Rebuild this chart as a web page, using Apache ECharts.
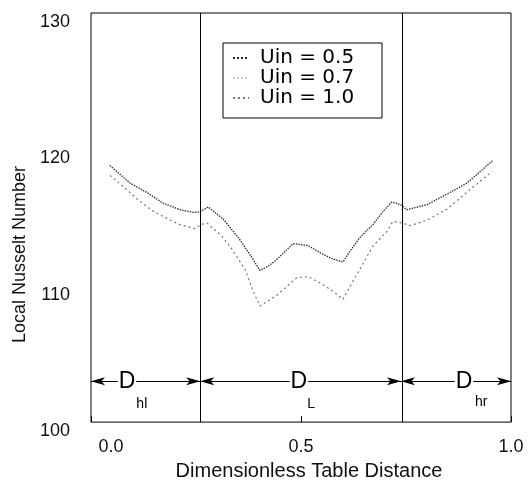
<!DOCTYPE html>
<html>
<head>
<meta charset="utf-8">
<script src="https://cdn.jsdelivr.net/npm/echarts@6/dist/echarts.min.js"></script>
<style>html,body{margin:0;padding:0;background:#fff;}#c{width:528px;height:486px;}</style>
</head>
<body>
<div id="c"></div>
<script>
// ---- data ----
const seriesNames = ['Uin = 0.5', 'Uin = 0.7', 'Uin = 1.0'];
const xTicks = [0, 0.5, 1.0];
const yTicks = [100, 110, 120, 130];

// upper curve (x, Nu)
const xUpper = [0.045,0.093,0.133,0.171,0.212,0.243,0.26,0.279,0.315,0.351,0.383,0.402,0.422,0.438,0.481,0.517,0.545,0.576,0.6,0.617,0.64,0.672,0.696,0.716,0.736,0.752,0.8,0.848,0.895,0.957];
const nuUin05 = [118.82,117.53,116.85,116.07,115.58,115.38,115.43,115.78,114.88,113.53,112.07,111.12,111.44,111.8,113.09,112.95,112.43,111.95,111.75,112.56,113.53,114.51,115.48,116.14,115.97,115.58,115.95,116.73,117.53,119.19];
const nuUin07 = [118.8,117.5,116.8,116.0,115.55,115.35,115.4,115.75,114.85,113.5,112.05,111.1,111.4,111.8,113.05,112.9,112.4,111.95,111.75,112.5,113.5,114.5,115.45,116.1,115.95,115.55,115.9,116.7,117.5,119.15];
// lower curve (x, Nu)
const xLower = [0.045,0.076,0.112,0.148,0.183,0.212,0.248,0.262,0.276,0.312,0.336,0.367,0.386,0.402,0.421,0.445,0.49,0.517,0.545,0.576,0.6,0.617,0.64,0.671,0.705,0.719,0.74,0.76,0.8,0.848,0.91,0.955];
const nuUin10 = [118.09,117.29,116.31,115.46,114.9,114.48,114.19,114.48,114.61,113.63,112.66,111.19,109.6,108.51,108.87,109.36,110.59,110.66,110.22,109.6,109.0,109.97,111.19,112.9,113.99,114.73,114.61,114.41,114.8,115.63,117.24,118.38];

// regions: table sections
const regionBounds = [0.26, 0.738];
const regionSpans = [[0, 0.26], [0.26, 0.738], [0.738, 1.0]];
const regionLetter = ['D', 'D', 'D'];
const regionSub = ['hl', 'L', 'hr'];
const letterX = [0.0857, 0.495, 0.888];
const subX = [0.121, 0.524, 0.929];
const arrowY = 103;
const subY = [101.32, 101.32, 101.46];

// ---- build ----
const F = 'Liberation Sans';
function pairs(xs, ys){ return xs.map((x,i)=>[x, ys[i]]); }

const chart = echarts.init(document.getElementById('c'), null, {renderer:'canvas'});

const markLineData = regionBounds.map(b => ({xAxis: b}));
const arrowData = regionSpans.map(s => [{coord:[s[0], arrowY]}, {coord:[s[1], arrowY]}]);

const labelPoints = [];
regionLetter.forEach((t,i)=>{
  labelPoints.push({coord:[letterX[i], arrowY], value:t,
    label:{formatter:t, fontSize:23, fontFamily:F, color:'#000', backgroundColor:'#fff', padding:[0,1,0,1]}});
  labelPoints.push({coord:[subX[i], subY[i]], value:regionSub[i],
    label:{formatter:regionSub[i], fontSize:14, fontFamily:F, color:'#000'}});
});

const cUp = '#222', cMid = '#cfcfcf', cLow = '#777';

const option = {
  animation:false,
  backgroundColor:'#fff',
  grid:{left:91, right:17, top:13, bottom:63, show:true, borderColor:'#000', borderWidth:1, backgroundColor:'transparent'},
  legend:{
    orient:'vertical', left:223, top:43,
    data: seriesNames,
    itemWidth:16, itemHeight:10, itemGap:0,
    padding:[5,10,10,9],
    borderColor:'#000', borderWidth:1,
    formatter: n => '{t|' + n + '}',
    itemStyle:{color:'rgba(0,0,0,0)', borderColor:'rgba(0,0,0,0)', borderWidth:0},
    textStyle:{fontFamily:'DejaVu Sans', fontSize:20, lineHeight:20, color:'#000',
      rich:{t:{fontFamily:'DejaVu Sans', fontSize:20, lineHeight:20, color:'#000', width:112, padding:[0,0,0,6]}}}
  },
  xAxis:{
    type:'value', min:0, max:1, interval:0.5,
    axisLine:{show:false},
    axisTick:{show:true, inside:true, length:6, lineStyle:{color:'#000'}},
    splitLine:{show:false},
    axisLabel:{
      fontFamily:F, fontSize:18, color:'#111', margin:16,
      formatter: v => v === 0 ? '{a|' + v.toFixed(1) + '}' : v.toFixed(1),
      rich:{a:{fontFamily:F, fontSize:18, color:'#111', padding:[0,0,0,40]}}
    },
    name:'Dimensionless Table Distance', nameLocation:'middle', nameGap:36,
    nameTextStyle:{fontFamily:F, fontSize:20, color:'#111', padding:[0,0,0,16]}
  },
  yAxis:{
    type:'value', min:yTicks[0], max:yTicks[yTicks.length-1], interval:10,
    axisLine:{show:false}, axisTick:{show:false}, splitLine:{show:false},
    axisLabel:{fontFamily:F, fontSize:18, color:'#111', margin:21, verticalAlign:'top'},
    name:'Local Nusselt Number', nameLocation:'middle', nameGap:56,
    nameTextStyle:{fontFamily:F, fontSize:18, color:'#111', padding:[0,74,0,0]}
  },
  series:[
    {name:seriesNames[1], type:'line', symbol:'none', data:pairs(xUpper, nuUin07),
     itemStyle:{color:cMid}, lineStyle:{color:cMid, width:1, type:'dotted'}, z:2},
    {name:seriesNames[0], type:'line', symbol:'none', data:pairs(xUpper, nuUin05),
     itemStyle:{color:cUp}, lineStyle:{color:cUp, width:1.3, type:'dotted'}, z:3},
    {name:seriesNames[2], type:'line', symbol:'none', data:pairs(xLower, nuUin10),
     itemStyle:{color:cLow}, lineStyle:{color:cLow, width:1.2, type:[2,3]}, z:3},
    {name:'annot', type:'line', data:[], symbol:'none', silent:true,
     markLine:{silent:true, symbol:['none','none'], label:{show:false},
       lineStyle:{color:'#000', width:1, type:'solid'}, data:markLineData, animation:false},
     markPoint:{silent:true, symbol:'rect', symbolSize:1, itemStyle:{color:'rgba(0,0,0,0)'},
       label:{show:true, position:'inside'}, data:labelPoints, animation:false}
    },
    {name:'arrows', type:'line', data:[], symbol:'none', silent:true, z:1,
     markLine:{silent:true, symbol:['arrow','arrow'], symbolSize:[6,14], label:{show:false},
       lineStyle:{color:'#000', width:1.2, type:'solid'}, data:arrowData, animation:false}
    }
  ]
};
chart.setOption(option);
</script>
</body>
</html>
